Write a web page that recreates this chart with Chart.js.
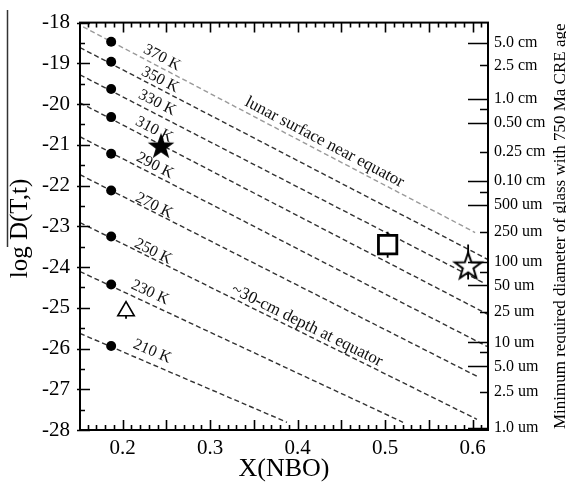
<!DOCTYPE html>
<html>
<head>
<meta charset="utf-8">
<script src="https://cdn.jsdelivr.net/npm/chart.js@4.4.1/dist/chart.umd.min.js"></script>
<style>
  html, body { margin: 0; padding: 0; background: #fff; }
  #wrap { width: 566px; height: 485px; }
</style>
</head>
<body>
<div id="wrap"><canvas id="chart" width="566" height="485"></canvas></div>
<script>
// ===== DATA =====
const xTicks = [0.2, 0.3, 0.4, 0.5, 0.6];
const yTicks = [-28, -27, -26, -25, -24, -23, -22, -21, -20, -19, -18];

// right axis: glass diameter, placed on the log D scale
const sizeLabels = ['5.0 cm', '2.5 cm', '1.0 cm', '', '0.50 cm', '0.25 cm', '0.10 cm', '', '500 um', '250 um',
  '100 um', '', '50 um', '25 um', '10 um', '', '5.0 um', '2.5 um', '1.0 um'];
const sizeTickY = [-18.505, -19.049, -19.882, -20.127, -20.458, -21.169, -21.892, -22.150, -22.480, -23.130,
  -23.865, -24.123, -24.453, -25.103, -25.850, -26.083, -26.439, -27.064, -27.95];

// isotherms (dashed lines)
const isoTemps = ['370 K', '350 K', '330 K', '310 K', '290 K', '270 K', '250 K', '230 K', '210 K'];
const isoX0 = [0.155, 0.1514, 0.1514, 0.1514, 0.1514, 0.1514, 0.1514, 0.1514, 0.1514];
const isoY0 = [-18.105, -18.613, -19.282, -19.968, -20.801, -21.733, -22.909, -24.110, -25.630];
const isoX1 = [0.603, 0.6177, 0.612, 0.6177, 0.6166, 0.6074, 0.6051, 0.5206, 0.388];
const isoY1 = [-23.154, -23.816, -24.380, -25.164, -25.949, -26.708, -27.738, -27.811, -27.811];
const isoLabelX = [0.2451, 0.2429, 0.2394, 0.2360, 0.2371, 0.2360, 0.2349, 0.2314, 0.2337];
const isoLabelY = [-18.865, -19.404, -19.968, -20.630, -21.512, -22.493, -23.620, -24.625, -26.071];

// filled circles on each isotherm
const circleX = [0.187, 0.187, 0.187, 0.187, 0.187, 0.187, 0.187, 0.187, 0.187];
const circleY = [-18.47, -18.96, -19.63, -20.32, -21.22, -22.12, -23.25, -24.43, -25.94];

// samples
const starFilled = { x: 0.244, y: -21.05 };
const starOpen = { x: 0.595, y: -23.99, lo: -24.306, hi: -23.449 };
const square = { x: 0.503, y: -23.45, lo: -23.771, hi: -23.134 };
const triangle = { x: 0.204, y: -25.08, lo: -25.27, hi: -25.0 };

// notes along lines
const noteText = ['lunar surface near equator', '~30-cm depth at equator'];
const noteX = [0.4309, 0.4109];
const noteY = [-20.936, -25.434];
const noteLine = [0, 6];

// ===== HELPERS =====
const serif = '"Liberation Serif", "Times New Roman", serif';
Chart.defaults.font.family = serif;
Chart.defaults.color = '#000';

function makeStar(R, fill, stroke, lw) {
  const s = Math.ceil(2 * R + 2 * lw + 2);
  const c = document.createElement('canvas');
  c.width = s; c.height = s;
  const g = c.getContext('2d');
  g.translate(s / 2, s / 2);
  g.beginPath();
  for (let i = 0; i < 10; i++) {
    const r = i % 2 ? R * 0.4 : R;
    const a = -Math.PI / 2 + i * Math.PI / 5;
    g.lineTo(r * Math.cos(a), r * Math.sin(a));
  }
  g.closePath();
  g.fillStyle = fill; g.fill();
  if (stroke) { g.lineWidth = lw; g.strokeStyle = stroke; g.lineJoin = 'miter'; g.stroke(); }
  return c;
}

const isLong = l => /^(0\.)?[15]/.test(l);

// ===== DATASETS =====
const datasets = [
  { data: [starFilled], pointStyle: makeStar(14, '#000', null, 0), pointRadius: 14 },
  { data: [{ x: starOpen.x, y: starOpen.y }], pointStyle: makeStar(14, '#fff', '#000', 2), pointRadius: 14 },
  { data: [{ x: square.x, y: square.y }], pointStyle: 'rect', pointRadius: 13, backgroundColor: '#fff',
    borderColor: '#000', borderWidth: 2.8 },
  { data: [{ x: triangle.x, y: triangle.y }], pointStyle: 'triangle', pointRadius: 9.5, backgroundColor: '#fff',
    borderColor: '#000', borderWidth: 1.6 },
  { data: circleX.map((x, i) => ({ x, y: circleY[i] })), pointStyle: 'circle', pointRadius: 5,
    backgroundColor: '#000', borderColor: '#000', borderWidth: 0 }
];
[starOpen, square, triangle].forEach(m => datasets.push({
  data: [{ x: m.x, y: m.lo }, { x: m.x, y: m.hi }], showLine: true, pointRadius: 0,
  borderColor: '#000', borderWidth: 1.8
}));
isoTemps.forEach((t, i) => datasets.push({
  data: [{ x: isoX0[i], y: isoY0[i] }, { x: isoX1[i], y: isoY1[i] }], showLine: true, pointRadius: 0,
  borderColor: i === 0 ? '#9a9a9a' : '#333', borderWidth: 1.4, borderDash: [5, 3]
}));

// ===== DECORATION PLUGIN =====
const deco = {
  id: 'deco',
  beforeDatasetsDraw(chart) {
    const { ctx, scales: { x, y } } = chart;
    const angleOf = i => Math.atan2(y.getPixelForValue(isoY1[i]) - y.getPixelForValue(isoY0[i]),
      x.getPixelForValue(isoX1[i]) - x.getPixelForValue(isoX0[i]));
    ctx.save();
    ctx.fillStyle = '#111';
    ctx.textAlign = 'center';
    ctx.textBaseline = 'middle';
    ctx.font = '16px ' + serif;
    isoTemps.forEach((t, i) => {
      ctx.save();
      ctx.translate(x.getPixelForValue(isoLabelX[i]), y.getPixelForValue(isoLabelY[i]));
      ctx.rotate(angleOf(i));
      ctx.fillText(t, 0, 0);
      ctx.restore();
    });
    ctx.font = '17px ' + serif;
    noteText.forEach((t, i) => {
      ctx.save();
      ctx.translate(x.getPixelForValue(noteX[i]), y.getPixelForValue(noteY[i]));
      ctx.rotate(angleOf(noteLine[i]));
      ctx.fillText(t, 0, 0);
      ctx.restore();
    });
    ctx.restore();
  },
  afterDraw(chart) {
    const { ctx, chartArea: a, scales: { x, y, y2 } } = chart;
    ctx.save();
    ctx.strokeStyle = '#000';
    ctx.lineWidth = 1.6;
    ctx.beginPath();
    // x ticks, bottom and top
    for (let i = 15; i <= 62; i++) {
      const v = i / 100;
      if (v < x.min || v > x.max) continue;
      const px = Math.round(x.getPixelForValue(v)) + 0.5;
      const len = i % 5 === 0 ? 10 : 5;
      ctx.moveTo(px, a.bottom); ctx.lineTo(px, a.bottom - len);
      ctx.moveTo(px, a.top); ctx.lineTo(px, a.top + len);
    }
    // left y ticks
    for (let v = -28; v <= -18; v += 0.5) {
      const py = Math.round(y.getPixelForValue(v)) + 0.5;
      const major = Number.isInteger(v);
      ctx.moveTo(a.left - (major ? 3 : 0), py); ctx.lineTo(a.left + (major ? 10 : 5), py);
    }
    // right size ticks
    sizeTickY.forEach((v, i) => {
      const py = Math.round(y2.getPixelForValue(v)) + 0.5;
      const len = sizeLabels[i] && isLong(sizeLabels[i]) ? 20 : 8;
      ctx.moveTo(a.right, py); ctx.lineTo(a.right - len, py);
    });
    ctx.stroke();
    // frame
    ctx.lineWidth = 2;
    ctx.strokeRect(a.left, a.top, a.right - a.left, a.bottom - a.top);

    // left title with overline
    ctx.fillStyle = '#000';
    ctx.font = '25px ' + serif;
    ctx.textAlign = 'center';
    ctx.textBaseline = 'alphabetic';
    ctx.save();
    ctx.translate(27, 228.5);
    ctx.rotate(-Math.PI / 2);
    ctx.fillText('log D(T,t)', 0, 0);
    ctx.restore();
    ctx.lineWidth = 1.5;
    ctx.strokeStyle = '#333';
    ctx.beginPath();
    ctx.moveTo(7.5, 10); ctx.lineTo(7.5, 247);
    ctx.stroke();

    // right title
    ctx.font = '17px ' + serif;
    ctx.save();
    ctx.translate(565, (a.top + a.bottom) / 2);
    ctx.rotate(-Math.PI / 2);
    ctx.fillText('Minimum required diameter of glass with 750 Ma CRE age', 0, 0);
    ctx.restore();
    ctx.restore();
  }
};

// ===== CHART =====
new Chart(document.getElementById('chart'), {
  type: 'scatter',
  data: { datasets },
  plugins: [deco],
  options: {
    responsive: false,
    animation: false,
    devicePixelRatio: 1,
    layout: { padding: { top: 22, left: 0, right: 0, bottom: 0 }, autoPadding: false },
    plugins: { legend: { display: false }, tooltip: { enabled: false } },
    scales: {
      x: {
        type: 'linear', position: 'bottom', min: 0.1514, max: 0.6177,
        grid: { display: false, drawTicks: false }, border: { display: false },
        afterBuildTicks: s => { s.ticks = xTicks.map(v => ({ value: v })); },
        afterFit: s => { s.height = 55; },
        ticks: { font: { size: 21 }, padding: 6, autoSkip: false, maxRotation: 0,
          callback: v => v.toFixed(1) },
        title: { display: true, text: 'X(NBO)', font: { size: 26 }, padding: { top: 0, bottom: 0 } }
      },
      y: {
        type: 'linear', position: 'left', min: -28, max: -18,
        grid: { display: false, drawTicks: false }, border: { display: false },
        afterBuildTicks: s => { s.ticks = yTicks.map(v => ({ value: v })); },
        afterFit: s => { s.width = 80; },
        ticks: { font: { size: 21 }, padding: 10, autoSkip: false, callback: v => String(v) }
      },
      y2: {
        type: 'linear', position: 'right', min: -28, max: -18,
        grid: { display: false, drawTicks: false }, border: { display: false },
        afterBuildTicks: s => { s.ticks = sizeTickY.map(v => ({ value: v })); },
        afterFit: s => { s.width = 78; },
        ticks: { font: { size: 16 }, padding: 6, autoSkip: false,
          callback: (v, i) => sizeLabels[i] }
      }
    }
  }
});
</script>
</body>
</html>
